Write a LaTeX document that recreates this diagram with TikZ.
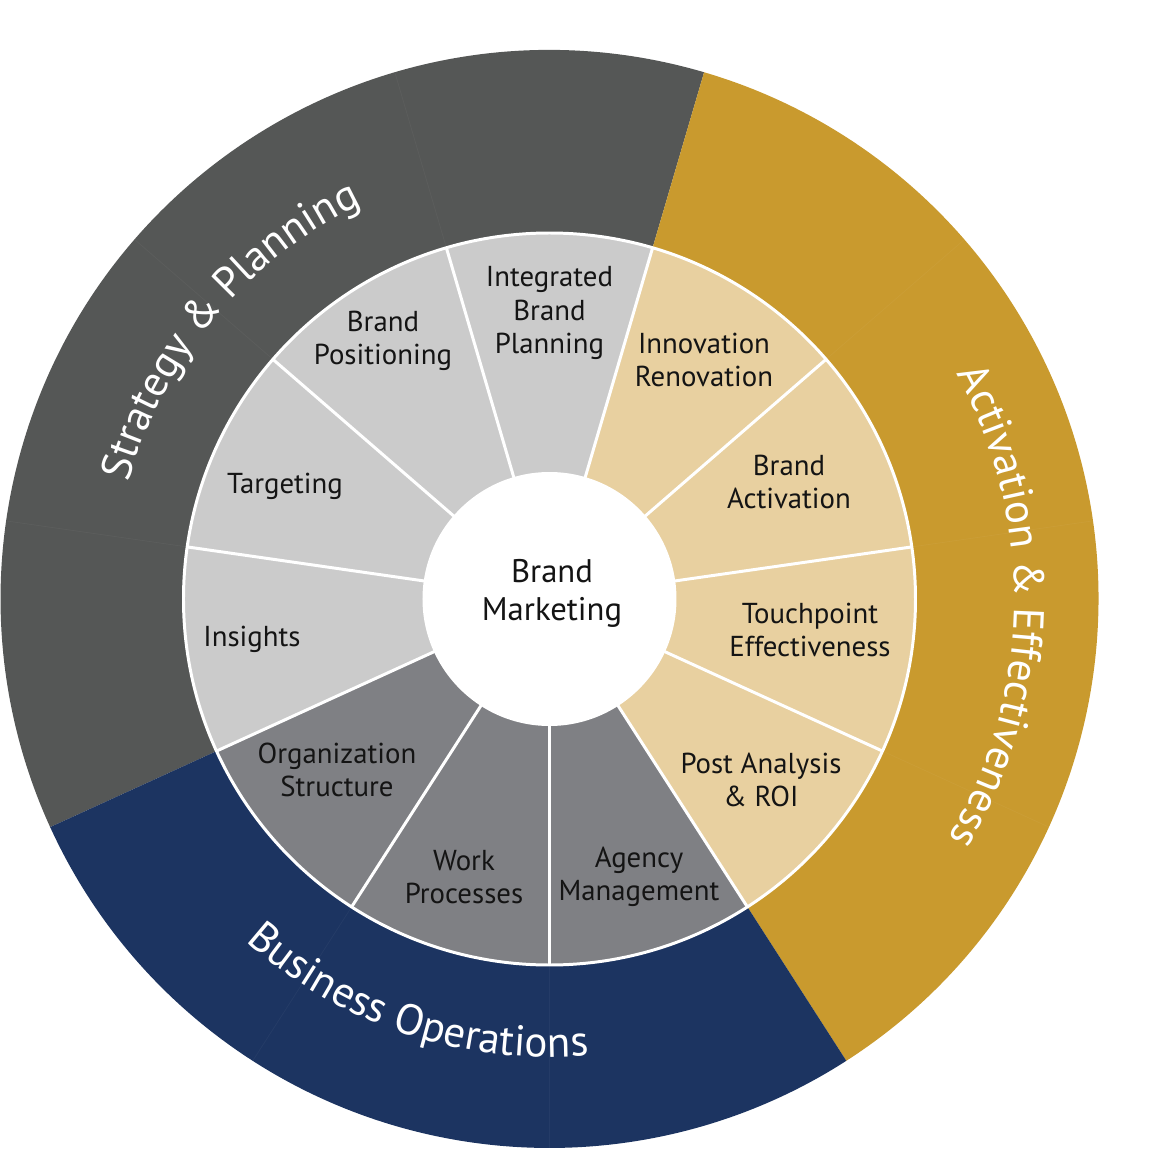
\documentclass[tikz,border=0pt]{standalone}
\usepackage{fontspec}
\setmainfont{PT Sans}
\usetikzlibrary{decorations.text}
\tikzset{every node/.append style={align=center}}
\definecolor{stratcol}{RGB}{85,87,86}
\definecolor{actcol}{RGB}{201,154,46}
\definecolor{opscol}{RGB}{28,52,97}
\definecolor{lightseg}{RGB}{203,203,203}
\definecolor{tanseg}{RGB}{232,208,160}
\definecolor{midseg}{RGB}{127,128,132}
\definecolor{labelcol}{RGB}{20,20,20}
\newcommand{\ringfont}{\fontsize{24.5}{28}\selectfont}

\begin{document}
\begin{tikzpicture}[
    seglabel/.style={font=\fontsize{16.4}{18.8}\selectfont, text=labelcol, inner sep=0pt},
    ringtext/.style={decorate, decoration={text along path, text color=white,
                     text align=center, text={|\ringfont|#1}}}]
\useasboundingbox (-10.99,-11.16) rectangle (12.41,11.98);

% ── Outer ring ────────────────────────────────────────────────────────────────
\foreach \a/\b/\col in {73.64/204.55/stratcol, -57.27/73.64/actcol,
                        204.55/302.73/opscol} {
  \fill[\col] (0,0) -- (\a:10.98) arc[start angle=\a, end angle=\b, radius=10.98]
        -- cycle;
}
% faint seams between the outer pieces
\foreach \k in {0,2,3,4,6,7,8,10} {
  \pgfmathsetmacro{\a}{-90+\k*360/11}
  \draw[white, opacity=0.04, line width=0.4pt] (\a:7.32) -- (\a:10.98);
}

% ── Inner ring ────────────────────────────────────────────────────────────────
\foreach \k/\col in {0/midseg, 1/tanseg, 2/tanseg, 3/tanseg, 4/tanseg,
                     5/lightseg, 6/lightseg, 7/lightseg, 8/lightseg,
                     9/midseg, 10/midseg} {
  \pgfmathsetmacro{\a}{-90+\k*360/11}
  \pgfmathsetmacro{\b}{\a+360/11}
  \fill[\col] (0,0) -- (\a:7.32) arc[start angle=\a, end angle=\b, radius=7.32]
        -- cycle;
}
\foreach \k in {0,...,10} {
  \pgfmathsetmacro{\a}{-90+\k*360/11}
  \draw[white, line width=1.7pt] (0,0) -- (\a:7.32);
}
\draw[white, line width=1.7pt] (0,0) circle[radius=7.32];

% ── Hub ───────────────────────────────────────────────────────────────────────
\node[circle, fill=white, minimum size=5.08cm, inner sep=0pt] (hub) at (0,0) {};
\node[font=\fontsize{18.6}{21.6}\selectfont, text=labelcol, inner sep=0pt]
     (hublabel) at (0.05,0.12) {Brand\\Marketing};

% ── Segment labels ────────────────────────────────────────────────────────────
\foreach \n/\pos/\lbl in {
    ibp/{0,5.72}/{Integrated\\Brand\\Planning},
    innov/{3.09,4.78}/{Innovation\\Renovation},
    bact/{4.79,2.34}/{Brand\\Activation},
    touch/{5.21,-0.62}/{Touchpoint\\Effectiveness},
    post/{4.23,-3.62}/{Post Analysis\\\& ROI},
    agency/{1.79,-5.56}/{Agency\\Management},
    work/{-1.71,-5.56}/{Work\\Processes},
    org/{-4.25,-3.42}/{Organization\\Structure},
    ins/{-5.95,-0.80}/{Insights},
    targ/{-5.29,2.26}/{Targeting},
    bpos/{-3.33,5.16}/{Brand\\Positioning}}
{
  \node[seglabel] (\n) at (\pos) {\lbl};
}

% ── Ring titles ───────────────────────────────────────────────────────────────
\path[ringtext={Strategy {\&} Planning}]
     (190:8.74) arc[start angle=190, end angle=90, radius=8.74];
\path[ringtext={Activation {\&} Effectiveness}]
     (59:9.30) arc[start angle=59, end angle=-61, radius=9.30];
\path[ringtext={Business Operations}]
     (201.7:9.16) arc[start angle=201.7, end angle=301.7, radius=9.16];

\end{tikzpicture}
\end{document}
